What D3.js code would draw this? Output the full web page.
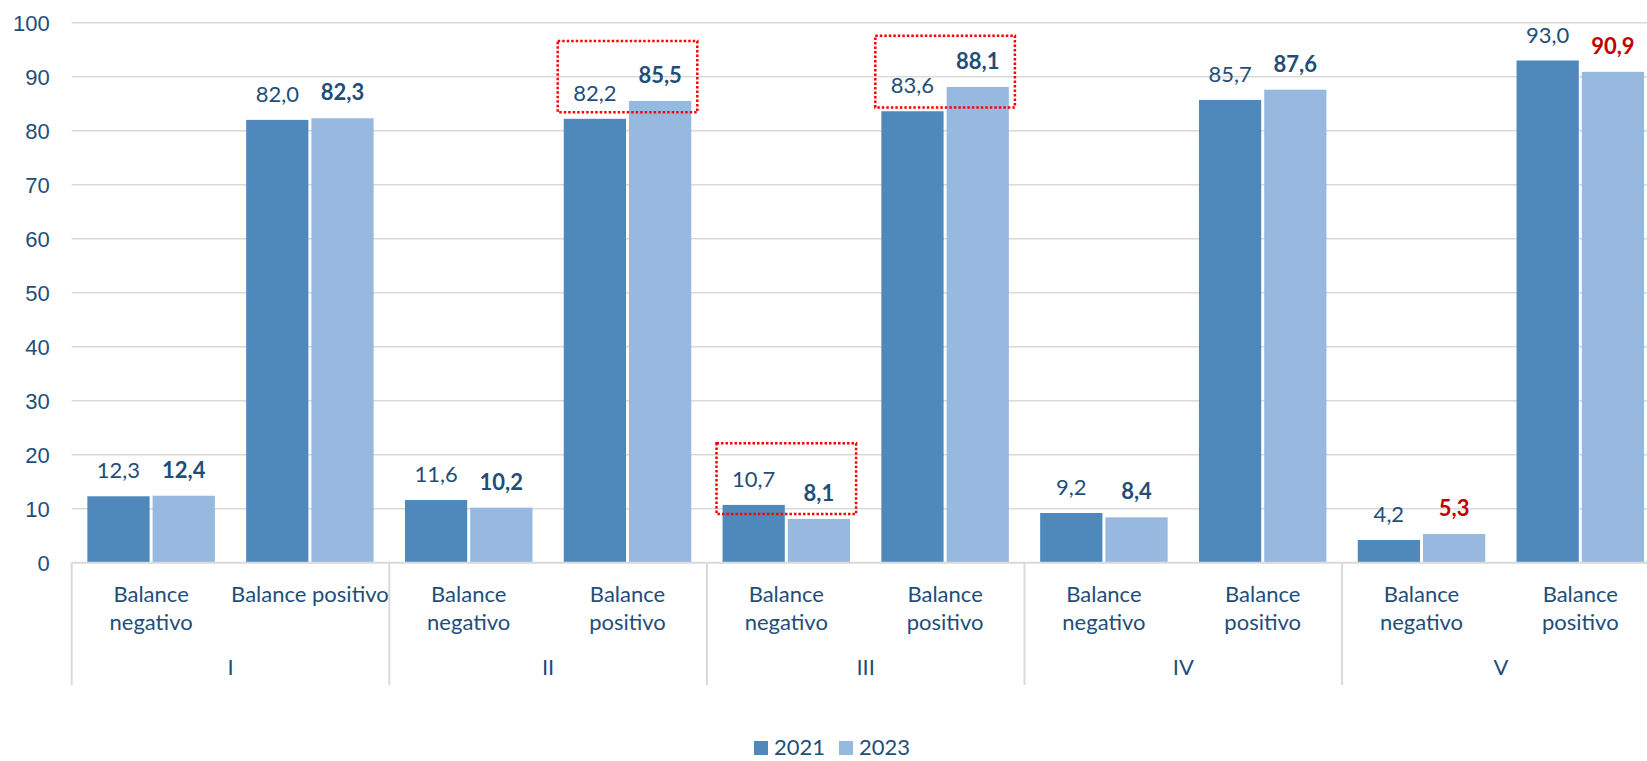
<!DOCTYPE html>
<head>
  <meta charset="utf-8">
  <script src="https://d3js.org/d3.v7.min.js"></script>
  <style>
    body { margin: 0; background: #fff; }
    svg { display: block; font-family: Lato, "Open Sans", sans-serif; }
    .tick text { fill: #1f4e79; font-size: 22px; }
    .lbl { fill: #1f4e79; font-size: 22px; }
  </style>
</head>
<body>
  <div id="vis"></div>
  <script>
    // data
    var groups = ["I", "II", "III", "IV", "V"];
    var subcats = ["Balance negativo", "Balance positivo"];
    var years = ["2021", "2023"];
    var values2021 = [12.3, 82.0, 11.6, 82.2, 10.7, 83.6, 9.2, 85.7, 4.2, 93.0];
    var values2023 = [12.4, 82.3, 10.2, 85.5, 8.1, 88.1, 8.4, 87.6, 5.3, 90.9];
    // how each sub-category label wraps (group I positivo stays on one line)
    var subLabelLines = [
      ["Balance", "negativo"], ["Balance positivo"],
      ["Balance", "negativo"], ["Balance", "positivo"],
      ["Balance", "negativo"], ["Balance", "positivo"],
      ["Balance", "negativo"], ["Balance", "positivo"],
      ["Balance", "negativo"], ["Balance", "positivo"]
    ];
    var yTicks = [0, 10, 20, 30, 40, 50, 60, 70, 80, 90, 100];
    // highlight boxes drawn around some labels: [bar index, value low, value high]
    var highlights = [[3, 83.4, 96.6], [5, 84.3, 97.6], [4, 9.0, 22.1]];
    // 2023 labels shown in red
    var redLabels = [8, 9];

    var W = 1647, H = 761;
    var left = 71.7, groupW = 317.6;
    var right = left + groupW * groups.length; // the chart runs past the window edge

    var svg = d3.select("#vis").append("svg")
      .attr("width", W).attr("height", H);

    var keys = d3.range(values2021.length);

    var x0 = d3.scaleBand().domain(keys).range([left, right]).padding(0);
    var x1 = d3.scaleBand().domain(years).range([0, x0.bandwidth()])
      .paddingInner(0.046).paddingOuter(0.24);
    var y = d3.scaleLinear().domain([0, 100]).range([562.7, 22.7]);

    var colors = { "2021": "#4f88bb", "2023": "#97b9df" };

    // gridlines
    svg.append("g").selectAll("line")
      .data(yTicks.filter(d => d > 0))
      .enter().append("line")
      .attr("x1", left).attr("x2", right)
      .attr("y1", d => y(d)).attr("y2", d => y(d))
      .attr("stroke", "#d9d9d9").attr("stroke-width", 1.5);

    // y axis labels
    var yAxis = svg.append("g")
      .attr("transform", "translate(" + (left - 22) + ",0)")
      .call(d3.axisLeft(y).tickValues(yTicks).tickSize(0).tickPadding(0));
    yAxis.select(".domain").remove();
    yAxis.selectAll("text").attr("font-family", null).attr("dy", "0.35em");

    // bars
    var rows = keys.map(i => ({ i: i, vals: [
      { year: "2021", v: values2021[i] }, { year: "2023", v: values2023[i] }] }));

    var cat = svg.append("g").selectAll("g")
      .data(rows).enter().append("g")
      .attr("transform", d => "translate(" + x0(d.i) + ",0)");

    cat.selectAll("rect")
      .data(d => d.vals).enter().append("rect")
      .attr("x", d => x1(d.year))
      .attr("width", x1.bandwidth())
      .attr("y", d => y(d.v))
      .attr("height", d => y(0) - y(d.v))
      .attr("fill", d => colors[d.year]);

    cat.selectAll("text")
      .data(d => d.vals.map(v => Object.assign({ i: d.i }, v))).enter().append("text")
      .attr("class", "lbl")
      .attr("x", d => x1(d.year) + x1.bandwidth() / 2)
      .attr("y", d => y(d.v) - 18)
      .attr("text-anchor", "middle")
      .attr("font-weight", d => d.year == "2023" ? "bold" : null)
      .style("fill", d => d.year == "2023" && redLabels.indexOf(d.i) >= 0 ? "#c00000" : null)
      .text(d => d3.format(".1f")(d.v).replace(".", ","));

    // x axis line and separators
    svg.append("line")
      .attr("x1", left).attr("x2", right)
      .attr("y1", y(0)).attr("y2", y(0))
      .attr("stroke", "#d9d9d9").attr("stroke-width", 2);

    svg.append("g").selectAll("line")
      .data(d3.range(groups.length + 1))
      .enter().append("line")
      .attr("x1", d => left + d * groupW).attr("x2", d => left + d * groupW)
      .attr("y1", y(0)).attr("y2", 685)
      .attr("stroke", "#d9d9d9").attr("stroke-width", 2);

    // sub-category labels
    svg.append("g").selectAll("text")
      .data(keys).enter().append("text")
      .attr("class", "lbl")
      .attr("text-anchor", "middle")
      .attr("x", d => x0(d) + x0.bandwidth() / 2)
      .attr("y", 601.5)
      .selectAll("tspan")
      .data(d => subLabelLines[d].map(t => ({ t: t, x: x0(d) + x0.bandwidth() / 2 })))
      .enter().append("tspan")
      .attr("x", d => d.x)
      .attr("dy", (d, i) => i ? 28.5 : 0)
      .text(d => d.t);

    // group labels
    svg.append("g").selectAll("text")
      .data(groups).enter().append("text")
      .attr("class", "lbl")
      .attr("text-anchor", "middle")
      .attr("x", (d, i) => left + (i + 0.5) * groupW)
      .attr("y", 675)
      .text(d => d);

    // highlight boxes
    svg.append("g").selectAll("rect")
      .data(highlights).enter().append("rect")
      .attr("x", d => x0(d[0]) + 9.6)
      .attr("width", x0.bandwidth() - 19.2)
      .attr("y", d => y(d[2]))
      .attr("height", d => y(d[1]) - y(d[2]))
      .attr("fill", "none")
      .attr("stroke", "#ff0000")
      .attr("stroke-width", 2.5)
      .attr("stroke-dasharray", "2.5 2");

    // legend
    var legend = svg.append("g").selectAll("g")
      .data(years).enter().append("g")
      .attr("transform", (d, i) => "translate(" + (754 + i * 85) + ",0)");
    legend.append("rect")
      .attr("y", 741).attr("width", 14).attr("height", 14)
      .attr("fill", d => colors[d]);
    legend.append("text")
      .attr("class", "lbl")
      .attr("x", 20).attr("y", 755)
      .text(d => d);
  </script>
</body>
